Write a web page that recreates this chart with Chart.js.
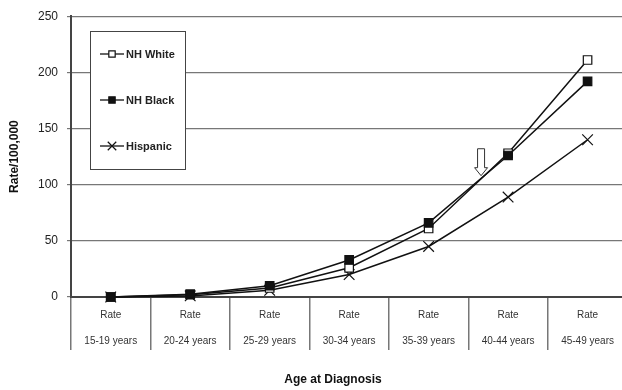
<!DOCTYPE html>
<html>
<head>
<meta charset="utf-8">
<script src="https://cdn.jsdelivr.net/npm/chart.js@4/dist/chart.umd.min.js"></script>
<style>
  html, body { margin: 0; padding: 0; background: #fff; overflow: hidden; }
  #wrap { width: 622px; height: 390px; overflow: hidden; }
</style>
</head>
<body>
<div id="wrap"><canvas id="chart" width="636" height="390"></canvas></div>
<script>
'use strict';

// Age groups on the x axis (two-row labels)
const rowLabel = 'Rate';
const ageGroups = ['15-19 years', '20-24 years', '25-29 years', '30-34 years', '35-39 years', '40-44 years', '45-49 years'];
const xTitle = 'Age at Diagnosis';

// Rates per 100,000
const nhWhite = [0, 2, 8, 26, 61, 128, 211];
const nhBlack = [0, 2.5, 10, 33, 66, 126, 192];
const hispanic = [0, 1, 6, 20, 45, 89, 140];

// Arrow annotation: position along the category axis and value range
const arrowAt = 4.66;
const arrowTop = 132;
const arrowTip = 108;

const ink = '#111';
const font = 'Liberation Sans, Arial, sans-serif';

// Legend drawn as a framed box inside the plot
const boxLegend = {
  id: 'boxLegend',
  afterDatasetsDraw(chart) {
    const ctx = chart.ctx;
    const x = 90, y = 31, w = 95, h = 138;
    ctx.save();
    ctx.fillStyle = '#fff';
    ctx.strokeStyle = '#444';
    ctx.lineWidth = 1;
    ctx.fillRect(x, y, w, h);
    ctx.strokeRect(x + 0.5, y + 0.5, w, h);
    chart.data.datasets.forEach((ds, i) => {
      const cy = 54 + i * 46;
      ctx.strokeStyle = ink;
      ctx.lineWidth = 1.3;
      ctx.beginPath();
      ctx.moveTo(100, cy);
      ctx.lineTo(124, cy);
      ctx.stroke();
      ctx.fillStyle = ds.pointBackgroundColor;
      ctx.strokeStyle = ds.pointBorderColor;
      ctx.lineWidth = 1.2;
      Chart.helpers.drawPoint(ctx, { pointStyle: ds.pointStyle, radius: ds.pointRadius - 1.5, borderWidth: 1.2 }, 112, cy);
      ctx.fillStyle = '#222';
      ctx.font = 'bold 11px ' + font;
      ctx.textBaseline = 'middle';
      ctx.textAlign = 'left';
      ctx.fillText(ds.label, 126, cy + 1);
    });
    ctx.restore();
  }
};

// Open down arrow placed with the chart scales
const downArrow = {
  id: 'downArrow',
  afterDatasetsDraw(chart) {
    const xs = chart.scales.x, ys = chart.scales.y;
    const i = Math.floor(arrowAt);
    const px = xs.getPixelForValue(i) + (arrowAt - i) * (xs.getPixelForValue(i + 1) - xs.getPixelForValue(i));
    const top = ys.getPixelForValue(arrowTop);
    const tip = ys.getPixelForValue(arrowTip);
    const headTop = tip - 8;
    const ctx = chart.ctx;
    ctx.save();
    ctx.beginPath();
    ctx.moveTo(px - 3.5, top);
    ctx.lineTo(px + 3.5, top);
    ctx.lineTo(px + 3.5, headTop);
    ctx.lineTo(px + 6.5, headTop);
    ctx.lineTo(px, tip);
    ctx.lineTo(px - 6.5, headTop);
    ctx.lineTo(px - 3.5, headTop);
    ctx.closePath();
    ctx.fillStyle = '#fff';
    ctx.fill();
    ctx.strokeStyle = '#333';
    ctx.lineWidth = 1;
    ctx.stroke();
    ctx.restore();
  }
};

// Axis title under the category table, a little left of centre as in the original
const bottomTitle = {
  id: 'bottomTitle',
  afterDraw(chart) {
    const xs = chart.scales.x;
    const ctx = chart.ctx;
    ctx.save();
    ctx.font = 'bold 12px ' + font;
    ctx.fillStyle = '#111';
    ctx.textAlign = 'center';
    ctx.textBaseline = 'middle';
    ctx.fillText(xTitle, xs.left + (xs.right - xs.left) * 0.471, xs.bottom - 10);
    ctx.restore();
  }
};

const common = { borderColor: ink, borderWidth: 1.5, tension: 0, pointBorderWidth: 1.2, clip: false };

new Chart(document.getElementById('chart'), {
  type: 'line',
  data: {
    labels: ageGroups.map(g => [rowLabel, g]),
    datasets: [
      Object.assign({ label: 'NH White', data: nhWhite, pointStyle: 'rect', pointRadius: 6, order: 1,
        pointBackgroundColor: '#fff', pointBorderColor: ink }, common),
      Object.assign({ label: 'NH Black', data: nhBlack, pointStyle: 'rect', pointRadius: 6, order: 0,
        pointBackgroundColor: ink, pointBorderColor: ink }, common),
      Object.assign({ label: 'Hispanic', data: hispanic, pointStyle: 'crossRot', pointRadius: 7.5, order: 2,
        pointBackgroundColor: ink, pointBorderColor: ink }, common)
    ]
  },
  options: {
    responsive: false,
    animation: false,
    layout: { padding: { top: 16, right: 0, left: 0, bottom: 0 } },
    plugins: { legend: { display: false }, tooltip: { enabled: false } },
    scales: {
      x: {
        offset: true,
        grid: { offset: true, drawOnChartArea: false, tickLength: 53, color: '#777', lineWidth: 1.5 },
        border: { color: '#444', width: 2 },
        ticks: { padding: -48, color: '#333', font: { family: font, size: 10, lineHeight: 2.6 }, maxRotation: 0, autoSkip: false },
        afterFit(scale) { scale.height = 93; scale.paddingLeft = 0; scale.paddingRight = 0; }
      },
      y: {
        min: 0, max: 250,
        grid: { color: '#777', lineWidth: 1.2, tickLength: 4 },
        border: { color: '#444', width: 2 },
        ticks: { stepSize: 50, padding: 9, color: '#222', font: { family: font, size: 12 } },
        title: { display: true, text: 'Rate/100,000', color: '#111', font: { family: font, size: 12, weight: 'bold' }, padding: { top: 7, bottom: 0 } },
        afterFit(scale) { scale.width = 71; }
      }
    }
  },
  plugins: [downArrow, boxLegend, bottomTitle]
});
</script>
</body>
</html>
